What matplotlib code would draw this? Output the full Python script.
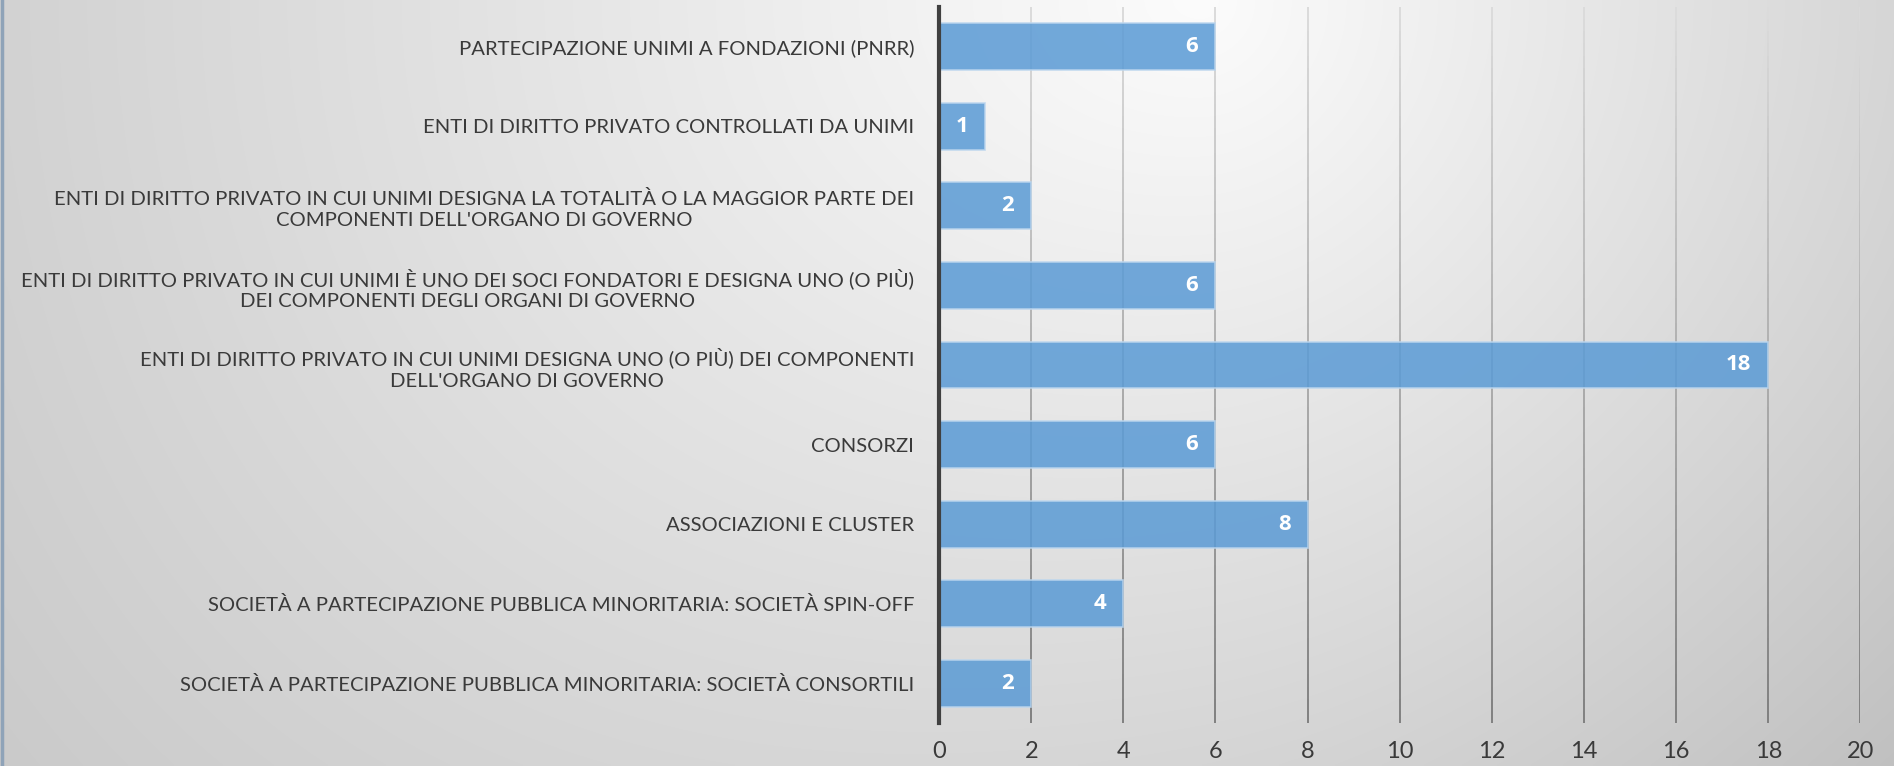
import numpy as np
import matplotlib
matplotlib.use('Agg')
import matplotlib.pyplot as plt
from matplotlib.collections import LineCollection

categories = [
    "PARTECIPAZIONE UNIMI A FONDAZIONI (PNRR)",
    "ENTI DI DIRITTO PRIVATO CONTROLLATI DA UNIMI",
    "ENTI DI DIRITTO PRIVATO IN CUI UNIMI DESIGNA LA TOTALITÀ O LA MAGGIOR PARTE DEI\nCOMPONENTI DELL'ORGANO DI GOVERNO",
    "ENTI DI DIRITTO PRIVATO IN CUI UNIMI È UNO DEI SOCI FONDATORI E DESIGNA UNO (O PIÙ)\nDEI COMPONENTI DEGLI ORGANI DI GOVERNO",
    "ENTI DI DIRITTO PRIVATO IN CUI UNIMI DESIGNA UNO (O PIÙ) DEI COMPONENTI\nDELL'ORGANO DI GOVERNO",
    "CONSORZI",
    "ASSOCIAZIONI E CLUSTER",
    "SOCIETÀ A PARTECIPAZIONE PUBBLICA MINORITARIA: SOCIETÀ SPIN-OFF",
    "SOCIETÀ A PARTECIPAZIONE PUBBLICA MINORITARIA: SOCIETÀ CONSORTILI",
]
values = [6, 1, 2, 6, 18, 6, 8, 4, 2]
xticks = [0, 2, 4, 6, 8, 10, 12, 14, 16, 18, 20]

plt.rcParams['font.family'] = ['Lato', 'DejaVu Sans']
TXT = '#3a3a3a'

fig = plt.figure(figsize=(18.94, 7.66), dpi=100)

# background: light spot near the top, greyer toward the corners
bg = fig.add_axes([0, 0, 1, 1], zorder=-10)
W, H = 1894, 766
px, py = np.meshgrid(np.arange(W), np.arange(H))
cx = 1200.0
hx = np.where(px < cx, 42 * (cx - px) / cx, 38 * (px - cx) / (W - cx))
vy = (27 + 19 * px / W) * py / H
shade = 252 - np.sqrt(hx ** 2 + vy ** 2)
img = np.dstack([shade, shade, shade]).astype(np.uint8)
bg.imshow(img, aspect='auto', extent=[0, 1, 1, 0], interpolation='bilinear')
bg.set_xlim(0, 1)
bg.set_ylim(1, 0)
bg.axis('off')
bg.axvline(0.0008, color='#8fa3b8', lw=2.5)

ax = fig.add_axes([0.4958, 0.0561, 0.4865, 0.9348])
ax.patch.set_alpha(0)
y = np.arange(len(categories))
ax.set_xlim(0, 20)
ax.set_ylim(len(categories) - 0.5, -0.5)

# vertical gridlines, lighter at the top and darker at the bottom
ys = np.linspace(-0.5, len(categories) - 0.5, 60)
for t in xticks[1:]:
    segs = [[(t, ys[i]), (t, ys[i + 1])] for i in range(len(ys) - 1)]
    g = np.linspace(0.86, 0.50, len(segs))
    lc = LineCollection(segs, colors=[(c, c, c) for c in g], linewidths=1.4, zorder=1)
    ax.add_collection(lc)

bars = ax.barh(y, values, height=0.59, color='#5b9bd5', alpha=0.86,
               edgecolor='#bcd6ee', linewidth=1.2, zorder=3)
for b, v in zip(bars, values):
    ax.annotate(str(v), (b.get_width(), b.get_y() + b.get_height() / 2),
                xytext=(-17, 0), textcoords='offset pixels', ha='right', va='center',
                color='white', fontsize=16, fontweight='bold', family='Open Sans',
                zorder=4)

ax.set_xticks(xticks)
ax.set_yticks(y)
ax.set_yticklabels(categories, multialignment='center', linespacing=1.3)
ax.tick_params(axis='y', length=0, pad=18, labelsize=14.6, labelcolor=TXT)
ax.tick_params(axis='x', length=0, pad=13, labelsize=17, labelcolor=TXT)
for s in ['top', 'right', 'bottom']:
    ax.spines[s].set_visible(False)
ax.spines['left'].set_color('#404040')
ax.spines['left'].set_linewidth(3)
ax.spines['left'].set_zorder(5)

fig.savefig('out.png', dpi=100)
